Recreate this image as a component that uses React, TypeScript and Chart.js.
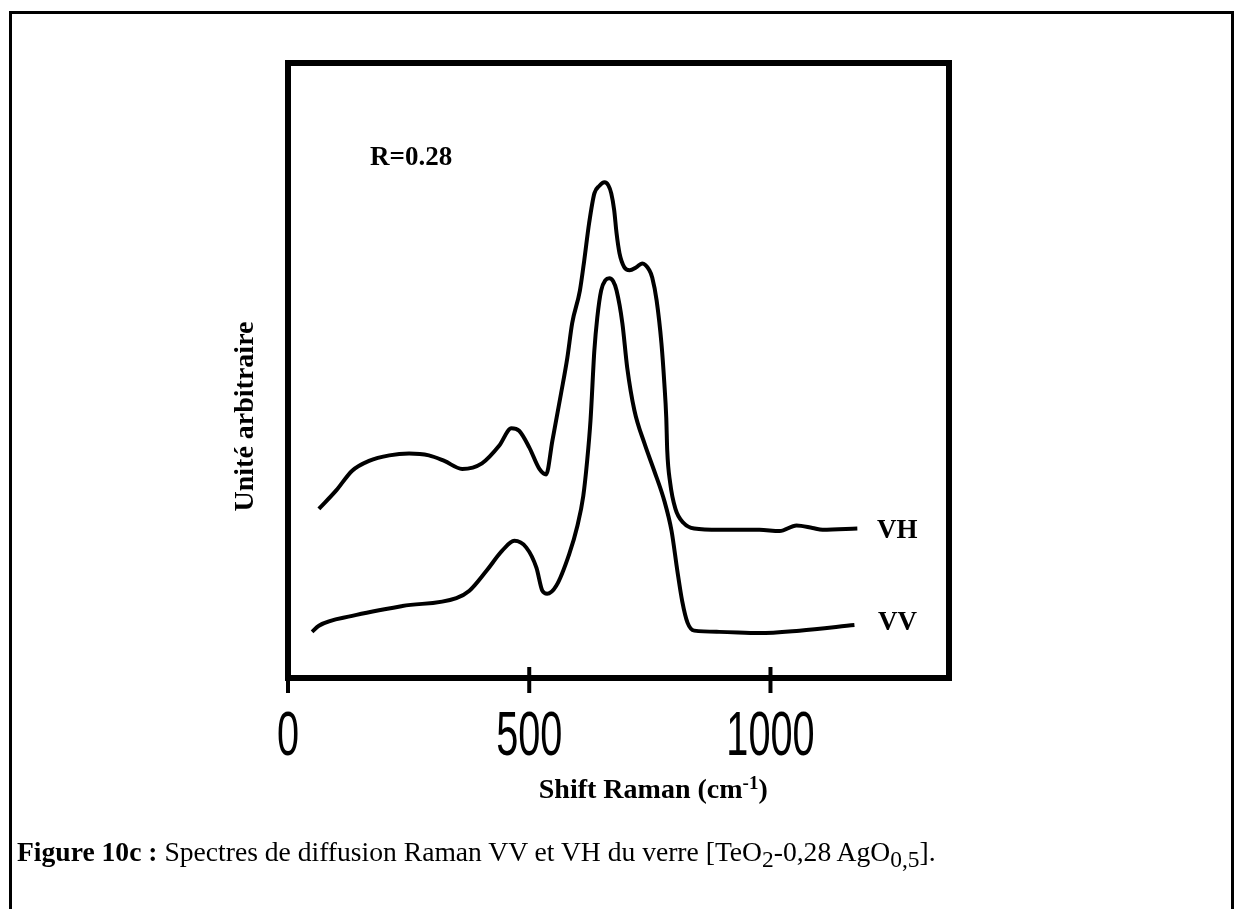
import React, { useEffect, useRef } from "react";
import { Chart, registerables } from "chart.js";

Chart.register(...registerables);

// Raman shift (cm-1) and intensity (arbitrary units)
const vhShift = [64, 100, 133, 168, 210, 251, 292, 324, 361, 402, 438, 463, 479, 500, 521, 535, 548, 566, 579, 589, 605, 614, 624, 635, 645, 656, 664, 670, 676, 681, 687, 697, 708, 722, 734, 749, 755, 764, 774, 780, 784, 786, 792, 803, 820, 842, 894, 977, 1019, 1054, 1087, 1108, 1180];
const vhIntensity = [27.5, 30.5, 33.7, 35.3, 36.2, 36.5, 36.2, 35.3, 34.0, 34.9, 37.8, 40.6, 40.2, 37.5, 34.0, 33.1, 38.6, 46.3, 52.1, 57.7, 63.0, 67.9, 73.9, 78.8, 80.0, 80.6, 80.1, 78.8, 76.1, 72.3, 69.1, 66.8, 66.3, 66.8, 67.4, 66.3, 65.1, 61.4, 54.4, 47.9, 42.3, 37.0, 31.8, 27.5, 25.2, 24.3, 24.1, 24.1, 23.9, 24.8, 24.4, 24.1, 24.3];

const vvShift = [50, 64, 133, 237, 349, 376, 411, 444, 469, 494, 515, 527, 537, 556, 583, 600, 612, 620, 627, 635, 641, 649, 658, 666, 674, 681, 693, 703, 718, 739, 759, 780, 795, 807, 817, 828, 842, 894, 977, 1060, 1174];
const vvIntensity = [7.5, 8.5, 10.1, 11.7, 13.0, 14.2, 17.4, 20.7, 22.3, 21.2, 17.9, 14.2, 13.7, 15.0, 20.2, 24.8, 29.6, 35.3, 41.9, 53.3, 58.6, 63.0, 64.7, 65.0, 64.5, 63.0, 57.7, 50.5, 43.5, 38.1, 33.7, 28.8, 23.9, 17.4, 12.5, 9.0, 7.7, 7.5, 7.3, 7.7, 8.6];

const xTickValues = [0, 500, 1000];
const xMin = 0;
const xMax = 1370;
const yMin = 0;
const yMax = 100;

const xTitleMain = "Shift Raman (cm";
const xTitleSup = "-1";
const xTitleEnd = ")";
const yTitle = "Unité arbitraire";

const serif = "'Liberation Serif', 'Times New Roman', serif";

const framePlugin = {
  id: "frameBox",
  afterDraw(chart: any) {
    const { ctx, chartArea: a, scales } = chart;
    ctx.save();
    ctx.strokeStyle = "#000";
    ctx.fillStyle = "#000";
    // plot frame
    ctx.lineWidth = 6;
    ctx.lineJoin = "miter";
    ctx.strokeRect(a.left, a.top, a.right - a.left, a.bottom - a.top);

    // x ticks (crossing the axis) and their labels
    ctx.lineWidth = 4;
    for (const v of xTickValues) {
      const x = scales.x.getPixelForValue(v);
      ctx.beginPath();
      ctx.moveTo(x, a.bottom - 11);
      ctx.lineTo(x, a.bottom + 15);
      ctx.stroke();
      ctx.save();
      ctx.translate(x, a.bottom + 77);
      ctx.scale(0.63, 1);
      ctx.font = "63px 'Liberation Sans', 'DejaVu Sans', sans-serif";
      ctx.textAlign = "center";
      ctx.textBaseline = "alphabetic";
      ctx.fillText(String(v), 0, 0);
      ctx.restore();
    }

    // x axis title with superscript
    const cx = (scales.x.getPixelForValue(0) + scales.x.getPixelForValue(1000)) / 2 + 124;
    const base = a.bottom + 120;
    ctx.font = `bold 28px ${serif}`;
    const w1 = ctx.measureText(xTitleMain).width;
    const w3 = ctx.measureText(xTitleEnd).width;
    ctx.font = `bold 19px ${serif}`;
    const w2 = ctx.measureText(xTitleSup).width;
    let x0 = cx - (w1 + w2 + w3) / 2;
    ctx.textAlign = "left";
    ctx.textBaseline = "alphabetic";
    ctx.font = `bold 28px ${serif}`;
    ctx.fillText(xTitleMain, x0, base);
    x0 += w1;
    ctx.font = `bold 19px ${serif}`;
    ctx.fillText(xTitleSup, x0, base - 9);
    x0 += w2;
    ctx.font = `bold 28px ${serif}`;
    ctx.fillText(xTitleEnd, x0, base);

    // y axis title
    ctx.save();
    ctx.translate(a.left - 35, (a.top + a.bottom) / 2 + 46);
    ctx.rotate(-Math.PI / 2);
    ctx.font = `bold 28px ${serif}`;
    ctx.textAlign = "center";
    ctx.textBaseline = "alphabetic";
    ctx.fillText(yTitle, 0, 0);
    ctx.restore();

    ctx.restore();
  },
};

function zip(xs: number[], ys: number[]) {
  return xs.map((x, i) => ({ x, y: ys[i] }));
}

export default function App() {
  const canvasRef = useRef<HTMLCanvasElement | null>(null);

  useEffect(() => {
    if (!canvasRef.current) return;
    const chart = new Chart(canvasRef.current, {
      type: "line",
      data: {
        datasets: [
          {
            label: "VH",
            data: zip(vhShift, vhIntensity),
            borderColor: "#000",
            borderWidth: 4,
            pointRadius: 0,
            cubicInterpolationMode: "monotone",
            fill: false,
          },
          {
            label: "VV",
            data: zip(vvShift, vvIntensity),
            borderColor: "#000",
            borderWidth: 4,
            pointRadius: 0,
            cubicInterpolationMode: "monotone",
            fill: false,
          },
        ],
      },
      options: {
        animation: false,
        responsive: false,
        maintainAspectRatio: false,
        layout: { padding: { left: 288, top: 63, right: 286, bottom: 231 } },
        plugins: { legend: { display: false }, tooltip: { enabled: false } },
        scales: {
          x: { type: "linear", min: xMin, max: xMax, display: false },
          y: { type: "linear", min: yMin, max: yMax, display: false },
        },
      },
      plugins: [framePlugin],
    });
    return () => chart.destroy();
  }, []);

  const label: React.CSSProperties = {
    position: "absolute",
    fontFamily: serif,
    fontWeight: "bold",
    fontSize: 27,
    lineHeight: 1,
    color: "#000",
    whiteSpace: "nowrap",
  };
  const sub: React.CSSProperties = { fontSize: "0.85em", verticalAlign: "-0.25em" };

  return (
    <div
      style={{
        position: "absolute",
        left: 0,
        top: 0,
        width: 1235,
        height: 909,
        overflow: "hidden",
        background: "#fff",
      }}
    >
      <div
        style={{
          position: "absolute",
          left: 9,
          top: 11,
          width: 1225,
          height: 1000,
          boxSizing: "border-box",
          border: "3px solid #000",
        }}
      />
      <canvas ref={canvasRef} width={1235} height={909} style={{ position: "absolute", left: 0, top: 0 }} />
      <div style={{ ...label, left: 370, top: 143 }}>R=0.28</div>
      <div style={{ ...label, left: 877, top: 516 }}>VH</div>
      <div style={{ ...label, left: 878, top: 608 }}>VV</div>
      <div
        style={{
          position: "absolute",
          left: 17,
          top: 838,
          fontFamily: serif,
          fontSize: 27.6,
          lineHeight: 1,
          color: "#000",
          whiteSpace: "nowrap",
        }}
      >
        <b>Figure 10c :</b> Spectres de diffusion Raman VV et VH du verre [TeO<span style={sub}>2</span>-0,28 AgO
        <span style={sub}>0,5</span>].
      </div>
    </div>
  );
}
